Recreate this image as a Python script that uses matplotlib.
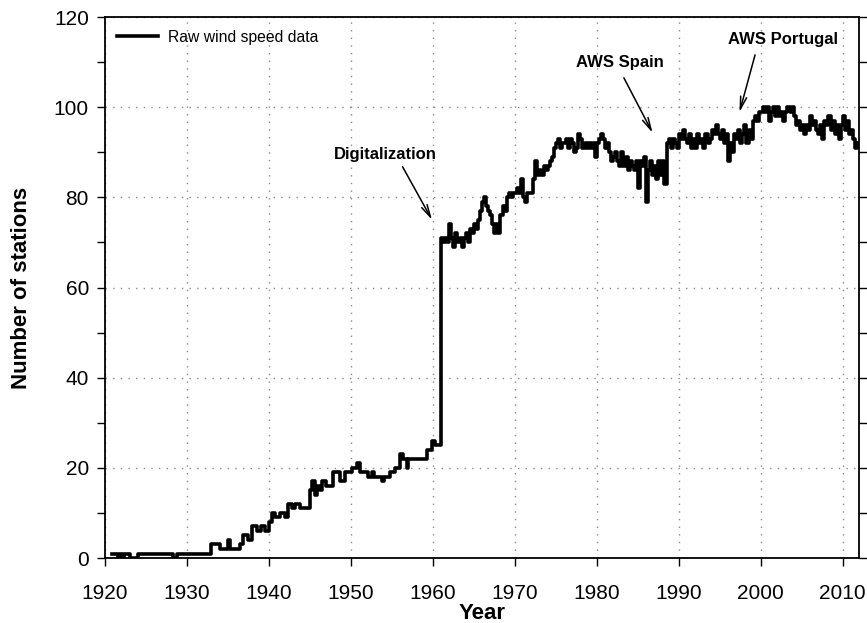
import matplotlib
matplotlib.use("Agg")
import matplotlib.pyplot as plt
from matplotlib.ticker import MultipleLocator
import numpy as np

plt.rcParams['font.family'] = ['Liberation Sans', 'DejaVu Sans']

# station counts before 1961 (step breakpoints: year, count)
early_years = [1920.9, 1921.6, 1921.8, 1922.1, 1922.3, 1923.0, 1924.0, 1928.3, 1928.8,
               1933.0, 1934.0, 1935.0, 1935.2, 1936.5, 1936.8, 1937.5, 1938.0, 1938.5,
               1939.0, 1939.5, 1940.0, 1940.4, 1940.8, 1941.3, 1942.0, 1942.3, 1942.8,
               1943.2, 1943.8, 1945.0, 1945.3, 1945.6, 1945.9, 1946.2, 1946.5, 1947.0,
               1947.8, 1948.7, 1949.3, 1950.1, 1950.8, 1951.1, 1952.1, 1952.6, 1952.8,
               1953.8, 1954.0, 1954.8, 1955.4, 1956.0, 1956.4, 1956.9, 1957.0, 1959.3,
               1959.9, 1960.3]
early_counts = [1, 0, 1, 0, 1, 0, 1, 0, 1,
                3, 2, 4, 2, 3, 5, 4, 7, 6,
                7, 6, 8, 10, 9, 10, 9, 12, 11,
                12, 11, 15, 17, 14, 16, 15, 17, 16,
                19, 17, 19, 20, 21, 19, 18, 19, 18,
                17, 18, 19, 20, 23, 22, 20, 22, 24,
                26, 25]

# quarterly station counts from 1961 onwards (one row per year)
late_start = 1961.0
late_counts = [
    71, 70, 71, 70,   74, 71, 69, 72,   70, 71, 69, 71,   72, 70, 73, 72,
    74, 73, 75, 77,   79, 80, 78, 77,   76, 74, 72, 74,   72, 76, 78, 77,
    80, 81, 80, 81,   81, 82, 81, 84,   80, 79, 81, 81,   81, 84, 88, 85,
    86, 85, 87, 86,   87, 88, 89, 91,   92, 93, 91, 92,   92, 93, 91, 93,
    92, 90, 91, 94,   93, 91, 92, 91,   92, 91, 92, 89,   92, 93, 94, 93,
    91, 92, 90, 88,   89, 90, 88, 87,   90, 87, 89, 86,   88, 87, 86, 88,
    82, 88, 87, 89,   79, 86, 88, 85,   87, 84, 88, 85,   88, 83, 92, 93,
    91, 93, 92, 91,   94, 93, 95, 93,   92, 94, 91, 93,   91, 94, 92, 93,
    91, 94, 92, 93,   95, 94, 96, 94,   93, 95, 92, 94,   88, 92, 90, 94,
    93, 95, 92, 94,   96, 92, 95, 93,   97, 98, 97, 99,   99, 100, 99, 100,
    97, 99, 100, 98,  100, 98, 99, 97,  99, 100, 99, 100, 98, 96, 97, 95,
    96, 94, 96, 95,   98, 96, 97, 95,   94, 96, 93, 97,   96, 98, 95, 97,
    94, 96, 93, 96,   98, 95, 97, 94,   95, 93, 91, 92,
]

late_years = late_start + 0.25 * np.arange(len(late_counts))
years = np.concatenate([early_years, late_years, [late_years[-1] + 0.25]])
counts = np.concatenate([early_counts, late_counts, [late_counts[-1]]])

fig = plt.figure(figsize=(8.67, 6.23), dpi=100)
ax = fig.add_axes([0.121, 0.1043, 0.870, 0.8684])

ax.plot(years, counts, drawstyle='steps-post', color='black', linewidth=2.6,
        label='Raw wind speed data')

ax.set_xlim(1920, 2012)
ax.set_ylim(0, 120)
ax.xaxis.set_major_locator(MultipleLocator(10))
ax.yaxis.set_major_locator(MultipleLocator(20))
ax.yaxis.set_minor_locator(MultipleLocator(10))
ax.tick_params(axis='both', which='both', direction='out', length=5.5, width=1,
               labelsize=15, colors='black')
ax.tick_params(axis='y', which='both', right=True, labelright=False, pad=6)
ax.tick_params(axis='x', pad=13)

ax.grid(True, which='major', color='#8a8a8a', linestyle=(0, (1, 4.5)), linewidth=1)
for s in ax.spines.values():
    s.set_linewidth(1.3)

ax.set_xlabel('Year', fontsize=16, fontweight='bold', labelpad=0)
ax.set_ylabel('Number of stations', fontsize=16, fontweight='bold', labelpad=16)

ax.legend(loc='upper left', frameon=False, fontsize=11.3, handlelength=2.6,
          borderaxespad=0.4, handletextpad=0.6)

# event annotations
notes = [
    ('Digitalization', (1954.2, 89.4), (1956.3, 86.8), (1959.9, 75.0)),
    ('AWS Spain', (1982.8, 109.8), (1983.3, 106.5), (1986.8, 94.3)),
    ('AWS Portugal', (2002.7, 115.1), (1999.3, 111.6), (1997.4, 98.9)),
]
for label, text_xy, tail, tip in notes:
    ax.text(*text_xy, label, ha='center', va='center', fontsize=12, fontweight='bold')
    ax.annotate('', xy=tip, xytext=tail,
                arrowprops=dict(arrowstyle='->, head_length=0.9, head_width=0.22',
                                color='black', lw=1.1, shrinkA=0, shrinkB=0))

fig.savefig('out.png', dpi=100)
